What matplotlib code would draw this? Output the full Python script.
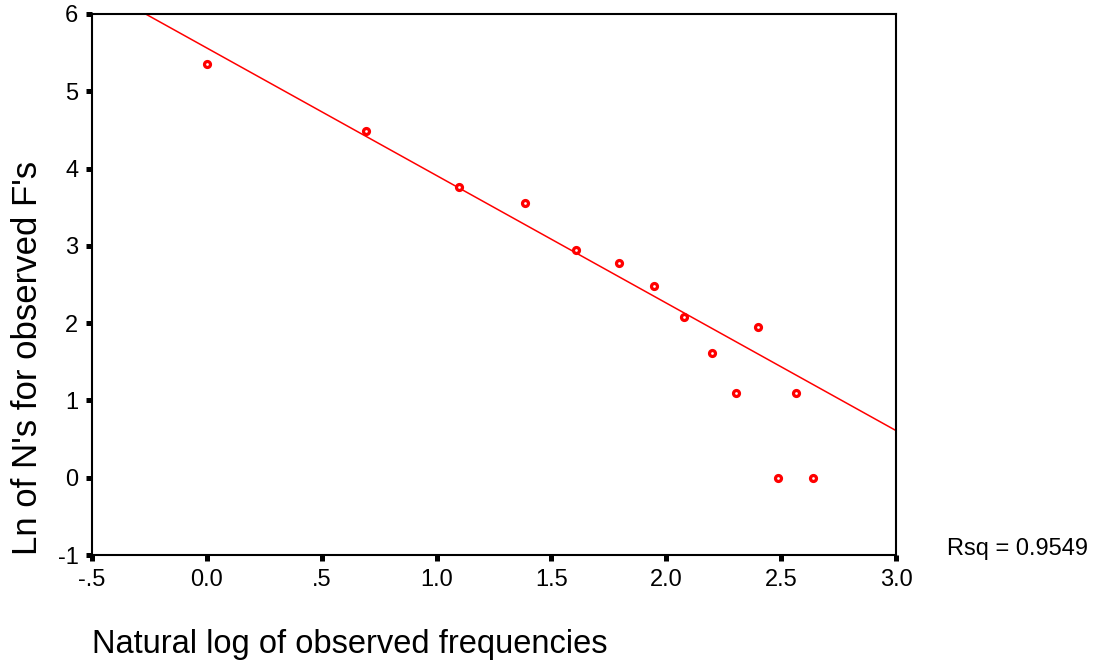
import matplotlib
matplotlib.use("Agg")
import matplotlib.pyplot as plt
import numpy as np

# Data
ln_freq = [0.000, 0.693, 1.099, 1.386, 1.609, 1.792, 1.946, 2.079,
           2.197, 2.303, 2.398, 2.485, 2.565, 2.639]
ln_n = [5.347, 4.489, 3.761, 3.555, 2.944, 2.773, 2.485, 2.079,
        1.609, 1.099, 1.946, 0.000, 1.099, 0.000]
fit_intercept = 5.56
fit_slope = -1.65
rsq_text = "Rsq = 0.9549"

x_ticks = [-0.5, 0.0, 0.5, 1.0, 1.5, 2.0, 2.5, 3.0]
x_ticklabels = ["-.5", "0.0", ".5", "1.0", "1.5", "2.0", "2.5", "3.0"]
y_ticks = [-1, 0, 1, 2, 3, 4, 5, 6]
y_ticklabels = ["-1", "0", "1", "2", "3", "4", "5", "6"]

plt.rcParams['font.family'] = ['Liberation Sans', 'DejaVu Sans']

fig = plt.figure(figsize=(10.96, 6.61), dpi=100)
ax = fig.add_axes([92 / 1096, 1 - 555 / 661, (896 - 92) / 1096, (555 - 14) / 661])

xs = np.array([-0.5, 3.0])
ax.plot(xs, fit_intercept + fit_slope * xs, color='#ff0000', lw=1.1, zorder=2)
ax.plot(ln_freq, ln_n, linestyle='none', marker='o', ms=4.3,
        mfc='white', mec='#ff0000', mew=2.3, zorder=3)

ax.set_xlim(-0.5, 3.0)
ax.set_ylim(-1, 6)
ax.set_xticks(x_ticks)
ax.set_xticklabels(x_ticklabels)
ax.set_yticks(y_ticks)
ax.set_yticklabels(y_ticklabels)
ax.tick_params(direction='out', length=4.3, width=3.6, color='black',
               labelsize=17, pad=5.5)
for s in ax.spines.values():
    s.set_linewidth(1.5)
    s.set_color('black')

fig.text(92 / 1096, 1 - 645 / 661, "Natural log of observed frequencies",
         fontsize=23.5, ha='left', va='center')
fig.text(28 / 1096, 1 - 358 / 661, "Ln of N's for observed F's",
         fontsize=25, rotation=90, ha='center', va='center')
fig.text(947 / 1096, 1 - 549 / 661, rsq_text, fontsize=17,
         ha='left', va='center')

fig.savefig("out.png", dpi=100)
